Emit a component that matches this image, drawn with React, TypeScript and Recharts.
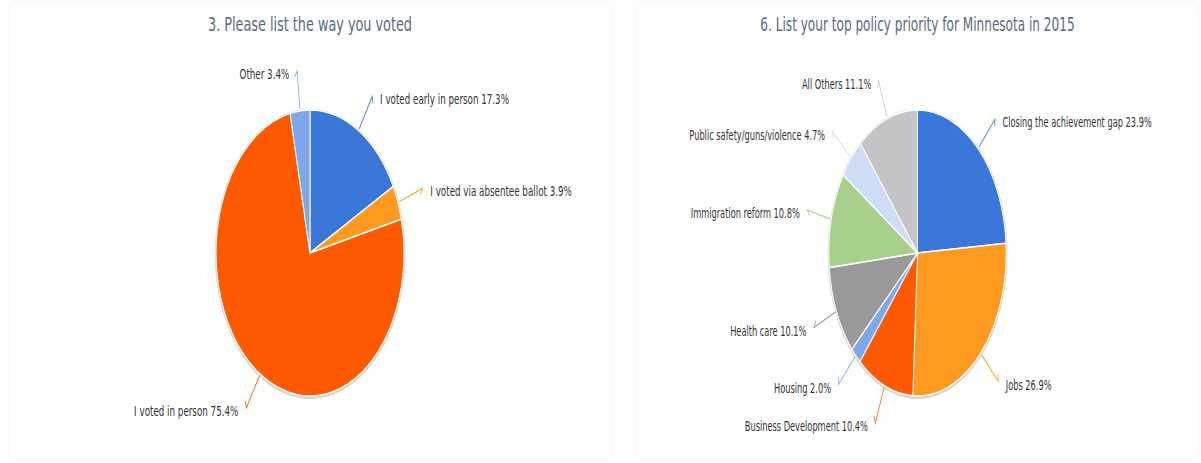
import React from "react";
import { PieChart, Pie, Cell } from "recharts";

// Question 3
const voteCategories = [
  "I voted early in person",
  "I voted via absentee ballot",
  "I voted in person",
  "Other",
];
const voteValues = [17.3, 3.9, 75.4, 3.4];
const voteColors = ["#3a77d9", "#ff9a20", "#ff5a00", "#7fa7ea"];

// Question 6
const policyCategories = [
  "Closing the achievement gap",
  "Jobs",
  "Business Development",
  "Housing",
  "Health care",
  "Immigration reform",
  "Public safety/guns/violence",
  "All Others",
];
const policyValues = [23.9, 26.9, 10.4, 2.0, 10.1, 10.8, 4.7, 11.1];
const policyColors = [
  "#3a77d9",
  "#ff9a20",
  "#ff5a00",
  "#7fa7ea",
  "#999999",
  "#a8d08d",
  "#cedcf5",
  "#c5c5c7",
];

const RAD = Math.PI / 180;
const FONT = "'DejaVu Sans', sans-serif";

const renderLabel = (props: any) => {
  const { cx, cy, midAngle, outerRadius, name, value, fill } = props;
  const cos = Math.cos(-midAngle * RAD);
  const sin = Math.sin(-midAngle * RAD);
  const sx = cx + (outerRadius + 2) * cos;
  const sy = cy + (outerRadius + 2) * sin;
  const ex = cx + (outerRadius + 40) * cos;
  const ey = cy + (outerRadius + 40) * sin;
  const side = cos >= 0 ? 1 : -1;
  // small hook at the end of the leader line, bent towards the text
  const rx = -cos;
  const ry = -sin;
  const a = 40 * RAD * side * (sin < 0 ? -1 : 1);
  const tx = ex + 7 * (rx * Math.cos(a) - ry * Math.sin(a));
  const ty = ey + 7 * (rx * Math.sin(a) + ry * Math.cos(a));
  return (
    <g>
      <polyline
        points={`${sx},${sy} ${ex},${ey} ${tx},${ty}`}
        fill="none"
        stroke={fill}
        strokeWidth={1.2}
      />
      <text
        x={ex + side * 12}
        y={ey + 4}
        textAnchor={side > 0 ? "start" : "end"}
        dominantBaseline="central"
        fill="#333"
        fontSize={13.3}
        fontFamily={FONT}
      >
        {`${name} ${value.toFixed(1)}%`}
      </text>
    </g>
  );
};

interface CardProps {
  title: string;
  names: string[];
  values: number[];
  colors: string[];
  left: number;
  width: number;
  scale: number;
}

const PieCard: React.FC<CardProps> = ({ title, names, values, colors, left, width, scale }) => {
  const inner = width / scale;
  const data = names.map((n, i) => ({ name: n, value: values[i] }));
  const total = values.reduce((s, v) => s + v, 0);
  return (
    <div
      style={{
        position: "absolute",
        left,
        top: 1,
        width: inner,
        height: 460,
        transform: `scaleX(${scale})`,
        transformOrigin: "0 0",
        border: "1px solid #f5f5f5",
        borderRadius: 8,
        boxSizing: "border-box",
        background: "#fff",
      }}
    >
      <div
        style={{
          position: "absolute",
          top: 12,
          left: 0,
          width: "100%",
          textAlign: "center",
          fontFamily: FONT,
          fontSize: 19.5,
          color: "#586b82",
          lineHeight: "22px",
        }}
      >
        {title}
      </div>
      <div style={{ position: "absolute", left: 0, top: 0 }}>
        <PieChart width={inner} height={458} margin={{ top: 0, right: 0, bottom: 0, left: 0 }}>
          <Pie
            data={[{ name: "shadow", value: total }]}
            dataKey="value"
            cx={inner / 2 - 1}
            cy={252}
            outerRadius={145}
            fill="#d6d6d6"
            stroke="none"
            isAnimationActive={false}
          />
          <Pie
            data={data}
            dataKey="value"
            nameKey="name"
            cx={inner / 2 - 1}
            cy={251}
            outerRadius={143}
            startAngle={90}
            endAngle={-270}
            stroke="#fff"
            strokeWidth={1.5}
            label={renderLabel}
            labelLine={false}
            isAnimationActive={false}
          >
            {data.map((d, i) => (
              <Cell key={d.name} fill={colors[i]} />
            ))}
          </Pie>
        </PieChart>
      </div>
    </div>
  );
};

const App: React.FC = () => {
  return (
    <div style={{ position: "absolute", left: 0, top: 0, width: 1201, height: 463, overflow: "hidden" }}>
      <PieCard
        title="3. Please list the way you voted"
        names={voteCategories}
        values={voteValues}
        colors={voteColors}
        left={8}
        width={604}
        scale={0.657}
      />
      <PieCard
        title="6. List your top policy priority for Minnesota in 2015"
        names={policyCategories}
        values={policyValues}
        colors={policyColors}
        left={636}
        width={563}
        scale={0.62}
      />
    </div>
  );
};

export default App;
